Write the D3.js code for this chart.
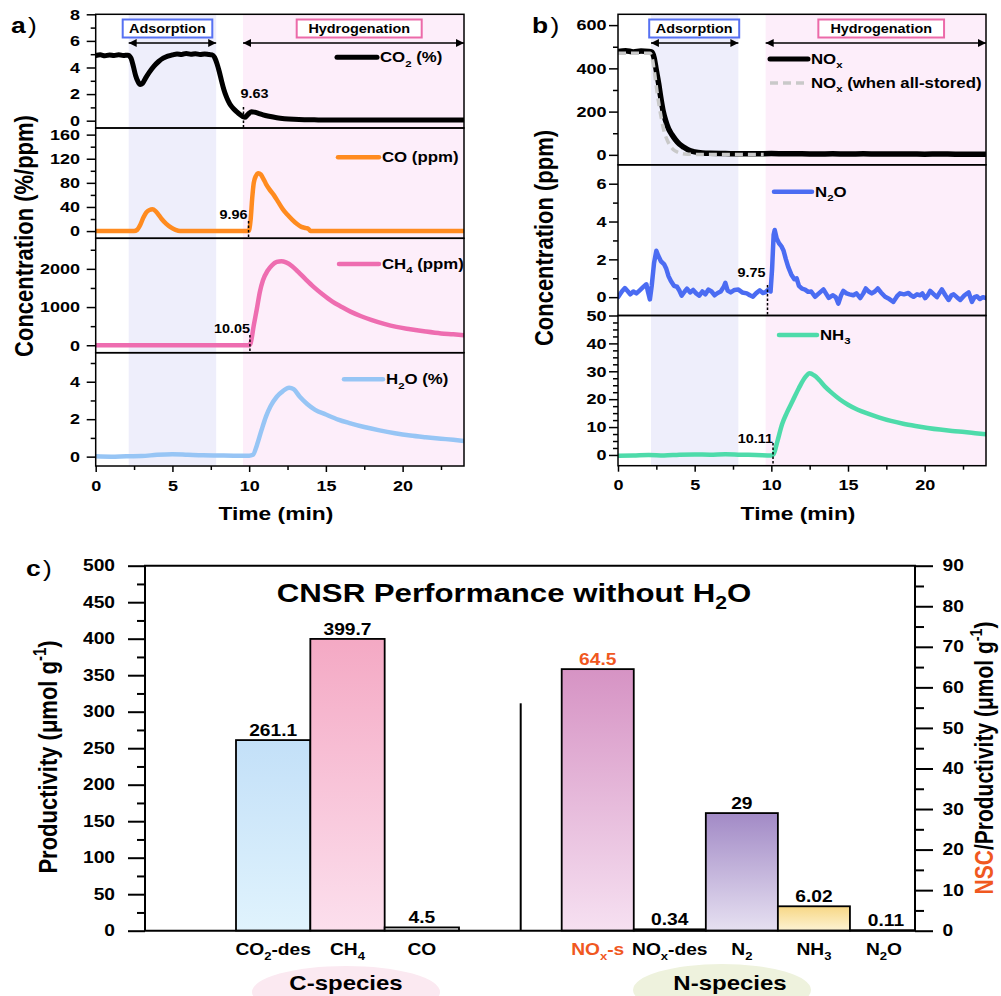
<!DOCTYPE html>
<html>
<head>
<meta charset="utf-8">
<script src="https://cdn.jsdelivr.net/npm/d3@7"></script>
<style>
  html, body { margin: 0; padding: 0; background: #fff; }
  svg { display: block; }
  text { font-family: 'Liberation Sans', Arial, sans-serif; font-weight: bold; }
</style>
</head>
<body>
<svg id="fig" width="1001" height="996"></svg>
<script>
// ---------------- time-resolved outlet concentrations (t in min, value) ----------------
const co2Series = [[0,4.9],[0.3,4.95],[0.6,4.88],[0.9,4.94],[1.2,4.9],[1.5,4.96],[1.8,4.9],[2.1,4.93],[2.3,4.7],[2.45,4.1],[2.6,3.4],[2.75,2.95],[2.9,2.72],[3.05,2.8],[3.25,3.2],[3.5,3.65],[3.8,4.1],[4.1,4.45],[4.4,4.7],[4.7,4.85],[5.0,4.95],[5.3,5.02],[5.6,4.98],[5.9,5.06],[6.2,5.0],[6.5,5.04],[6.8,4.98],[7.1,5.02],[7.4,4.97],[7.6,4.95],[7.75,4.75],[7.9,4.3],[8.05,3.7],[8.2,3.0],[8.35,2.35],[8.5,1.85],[8.65,1.45],[8.8,1.15],[9.0,0.88],[9.2,0.66],[9.4,0.46],[9.6,0.3],[9.72,0.25],[9.85,0.38],[10.0,0.56],[10.15,0.68],[10.35,0.64],[10.6,0.55],[10.9,0.44],[11.3,0.33],[11.8,0.22],[12.3,0.15],[12.9,0.1],[13.6,0.07],[14.5,0.06],[16,0.05],[18,0.05],[20,0.05],[22,0.05],[24,0.05]];
const coSeries = [[0,0],[2.5,0],[2.7,2],[2.9,10],[3.1,22],[3.3,31],[3.5,35],[3.7,36],[3.9,33],[4.1,27],[4.3,20],[4.6,12],[4.9,6],[5.2,2],[5.5,0],[9.9,0],[10.0,1],[10.1,20],[10.2,55],[10.3,80],[10.45,92],[10.6,96],[10.75,94],[10.9,88],[11.1,78],[11.3,70],[11.6,60],[11.9,48],[12.2,36],[12.5,27],[12.8,19],[13.1,12],[13.4,7],[13.7,5],[13.85,4],[14.0,0],[24,0]];
const ch4Series = [[0,0],[10,0],[10.1,60],[10.3,520],[10.5,950],[10.7,1400],[10.9,1700],[11.2,1950],[11.5,2100],[11.8,2180],[12.1,2200],[12.4,2170],[12.8,2070],[13.2,1920],[13.7,1720],[14.2,1530],[14.8,1330],[15.4,1150],[16,1010],[16.6,880],[17.3,760],[18,660],[18.8,560],[19.6,480],[20.5,420],[21.5,360],[22.5,310],[23.3,285],[24,260]];
const h2oSeries = [[0,0.02],[1,0.0],[2,0.02],[3,0.03],[4,0.1],[5,0.13],[6,0.1],[7,0.07],[8,0.06],[9,0.05],[10,0.05],[10.25,0.1],[10.5,0.6],[10.8,1.4],[11.1,2.15],[11.4,2.7],[11.8,3.2],[12.2,3.5],[12.6,3.68],[12.9,3.6],[13.3,3.2],[13.8,2.8],[14.3,2.5],[15,2.25],[15.8,1.98],[16.6,1.78],[17.5,1.58],[18.5,1.4],[19.5,1.25],[20.5,1.13],[21.5,1.04],[22.5,0.96],[23.3,0.9],[24,0.84]];

const noxSeries = [[0,478],[0.5,482],[1,476],[1.5,480],[2,478],[2.2,475],[2.35,450],[2.5,390],[2.65,330],[2.8,260],[2.95,200],[3.1,160],[3.3,120],[3.5,95],[3.75,70],[4,50],[4.3,35],[4.6,22],[5,14],[5.5,9],[6,7],[7,6],[8,5],[9,5],[10,6],[11,5],[12,5],[13,4],[14,5],[15,4],[16,5],[17,4],[18,4],[19,4],[20,3],[21,4],[22,3],[23,3],[24,3]];
const noxStoredSeries = [[0,470],[2.1,470],[2.25,440],[2.4,370],[2.55,290],[2.7,220],[2.85,160],[3.0,110],[3.2,70],[3.4,42],[3.6,25],[3.9,12],[4.2,6],[4.6,3],[5,2],[6,2],[7,2],[8,2],[9,2],[9.5,2]];
const n2oSeries = [[0,0.0],[0.25,0.3],[0.45,0.48],[0.65,0.3],[0.8,0.15],[1.0,0.3],[1.2,0.2],[1.4,0.35],[1.6,0.5],[1.85,0.68],[1.95,0.3],[2.08,-0.12],[2.2,0.6],[2.35,1.8],[2.5,2.45],[2.62,2.2],[2.8,1.9],[3.0,1.75],[3.15,1.5],[3.3,1.1],[3.45,0.85],[3.65,0.6],[3.85,0.55],[4.0,0.35],[4.15,0.08],[4.35,0.3],[4.5,0.45],[4.7,0.25],[4.9,0.38],[5.1,0.2],[5.3,0.08],[5.5,0.3],[5.7,0.15],[5.9,0.4],[6.1,0.3],[6.3,0.1],[6.5,0.22],[6.7,0.3],[6.9,0.55],[7.0,0.76],[7.15,0.35],[7.35,0.25],[7.6,0.38],[7.85,0.4],[8.1,0.25],[8.4,0.2],[8.6,0.1],[8.8,0.03],[9.0,0.2],[9.25,0.36],[9.45,0.22],[9.6,0.25],[9.8,0.4],[9.95,0.3],[10.05,1.5],[10.15,3.3],[10.22,3.55],[10.35,3.1],[10.5,2.85],[10.65,2.7],[10.8,2.45],[10.95,2.0],[11.1,1.6],[11.3,1.2],[11.5,0.95],[11.65,1.0],[11.8,0.6],[12.0,0.45],[12.2,0.4],[12.4,0.28],[12.6,0.3],[12.85,0.02],[13.1,0.2],[13.4,0.41],[13.6,0.15],[13.75,-0.04],[14.0,0.1],[14.2,0.0],[14.37,-0.34],[14.55,0.1],[14.7,0.33],[14.9,0.2],[15.1,0.15],[15.35,0.1],[15.55,0.2],[15.8,-0.05],[16.0,0.2],[16.16,0.46],[16.35,0.3],[16.55,0.2],[16.75,0.3],[16.94,0.46],[17.15,0.25],[17.42,0.02],[17.7,-0.1],[17.96,-0.25],[18.2,0.05],[18.39,0.2],[18.65,0.15],[18.94,0.22],[19.1,0.1],[19.27,0.02],[19.5,0.15],[19.7,0.1],[19.85,0.2],[20.03,-0.05],[20.2,0.1],[20.36,0.33],[20.6,0.15],[20.8,0.0],[20.95,0.2],[21.12,0.41],[21.35,0.1],[21.56,-0.15],[21.75,0.1],[21.89,0.15],[22.1,0.0],[22.32,-0.15],[22.6,0.1],[22.87,0.25],[23.08,-0.25],[23.25,0.0],[23.4,0.05],[23.6,-0.1],[23.8,0.0],[24,-0.05]];
const nh3Series = [[0,-0.3],[1,-0.2],[2,0],[3,-0.2],[4,0.1],[5,0.2],[6,0.1],[7,0.3],[8,0.1],[9,0.0],[10,-0.2],[10.15,0.3],[10.4,5],[10.7,11],[11,15],[11.4,19.5],[11.8,24],[12.2,27.8],[12.5,29.3],[12.8,28.5],[13.1,27],[13.5,24.5],[14,22],[14.5,19.8],[15,18],[15.6,16.3],[16.3,14.8],[17,13.5],[17.8,12.2],[18.6,11.2],[19.4,10.4],[20.2,9.7],[21,9.1],[21.8,8.6],[22.6,8.2],[23.3,7.8],[24,7.4]];

// process phases (min)
const phaseNames = ["Adsorption", "Hydrogenation"];
const phaseStartA = [2.15, 9.6], phaseEndA = [7.85, 24];
const phaseStartB = [2.15, 9.63], phaseEndB = [7.85, 24];

// onset times marked on the curves
const onsetA = [9.63, 9.96, 10.05];
const onsetB = [9.75, 10.11];

// axis ticks
const timeTicks = [0, 5, 10, 15, 20];
const co2Ticks = [0, 2, 4, 6, 8];
const coTicks = [0, 40, 80, 120, 160];
const ch4Ticks = [0, 1000, 2000];
const h2oTicks = [0, 2, 4];
const noxTicks = [0, 200, 400, 600];
const n2oTicks = [0, 2, 4, 6];
const nh3Ticks = [0, 10, 20, 30, 40, 50];
const prodTicks = d3.range(0, 501, 50);
const nscTicks = d3.range(0, 91, 10);

// ---------------- productivity bars ----------------
const cCategories = ["CO_{2}-des", "CH_{4}", "CO"];
const cValues = [261.1, 399.7, 4.5];
const nCategories = ["NO_{x}-s", "NO_{x}-des", "N_{2}", "NH_{3}", "N_{2}O"];
const nValues = [64.5, 0.34, 29, 6.02, 0.11];

// ---------------- drawing ----------------
const SX = 1.2;           // horizontal glyph stretch used throughout the figure
const intFmt = d3.format('d');
const svg = d3.select('#fig');
const defs = svg.append('defs');

function rich(t, str, fs) {
  const re = /([_^])\{([^}]*)\}/g;
  let last = 0, m;
  const parts = [];
  while ((m = re.exec(str))) {
    if (m.index > last) parts.push({ s: str.slice(last, m.index), k: 'n' });
    parts.push({ s: m[2], k: m[1] === '_' ? 'sub' : 'sup' });
    last = re.lastIndex;
  }
  if (last < str.length) parts.push({ s: str.slice(last), k: 'n' });
  let shift = 0;
  parts.forEach(p => {
    const ts = t.append('tspan').text(p.s);
    const target = p.k === 'sub' ? fs * 0.3 : (p.k === 'sup' ? -fs * 0.42 : 0);
    if (target - shift !== 0) ts.attr('dy', target - shift);
    shift = target;
    if (p.k !== 'n') ts.attr('font-size', fs * 0.68);
  });
}

function label(g, x, y, str, o = {}) {
  const fs = o.size || 14;
  const tr = o.rotate
    ? `translate(${x},${y}) rotate(${o.rotate}) scale(1,${SX})`
    : `translate(${x},${y}) scale(${SX},1)`;
  const t = g.append('text')
    .attr('transform', tr)
    .attr('font-size', fs)
    .attr('text-anchor', o.anchor || 'start')
    .attr('fill', o.color || '#000')
    .attr('font-weight', o.weight || 'bold');
  rich(t, str, fs);
  return t;
}

function styleAxis(sel, fs) {
  sel.select('.domain').remove();
  sel.selectAll('.tick line').attr('stroke', '#000').attr('stroke-width', 1.5);
  sel.selectAll('.tick text')
    .attr('font-size', fs).attr('font-weight', 'bold').attr('fill', '#000')
    .attr('font-family', "'Liberation Sans', Arial, sans-serif")
    .attr('transform', `scale(${SX},1)`);
}

defs.append('marker')
  .attr('id', 'arrowHead').attr('viewBox', '0 0 10 10')
  .attr('refX', 10).attr('refY', 5)
  .attr('markerWidth', 9).attr('markerHeight', 8)
  .attr('markerUnits', 'userSpaceOnUse')
  .attr('orient', 'auto-start-reverse')
  .append('path').attr('d', 'M0,0 L10,5 L0,10 Z').attr('fill', '#000');

let clipId = 0;

function timePanel(cfg) {
  const g = svg.append('g');
  const x = cfg.x;
  const top = cfg.rows[0].y0, bottom = cfg.rows[cfg.rows.length - 1].y1;
  const [x0, x1] = x.range();

  // phase shading
  const bandColors = ['#eeeefb', '#fdeefa'];
  cfg.phaseStart.forEach((s, i) => {
    g.append('rect')
      .attr('x', x(s)).attr('y', top)
      .attr('width', x(cfg.phaseEnd[i]) - x(s)).attr('height', bottom - top)
      .attr('fill', bandColors[i]);
  });

  const line = d3.line().x(d => x(d[0]));

  cfg.rows.forEach(row => {
    const y = d3.scaleLinear().domain(row.domain).range([row.y1, row.y0]);
    const id = 'clip' + (clipId++);
    defs.append('clipPath').attr('id', id).append('rect')
      .attr('x', x0).attr('y', row.y0).attr('width', x1 - x0).attr('height', row.y1 - row.y0);
    const lg = g.append('g').attr('clip-path', `url(#${id})`);
    row.series.forEach(s => {
      lg.append('path')
        .datum(s.data)
        .attr('d', line.y(d => y(d[1])).curve(s.curve || d3.curveMonotoneX))
        .attr('fill', 'none')
        .attr('stroke', s.color)
        .attr('stroke-width', s.width)
        .attr('stroke-dasharray', s.dash || null)
        .attr('stroke-linejoin', 'round')
        .attr('stroke-linecap', s.dash ? 'butt' : 'round');
    });

    // legend entries
    row.legend.forEach(l => {
      g.append('line')
        .attr('x1', l.x1).attr('x2', l.x2).attr('y1', l.y).attr('y2', l.y)
        .attr('stroke', l.color).attr('stroke-width', l.width)
        .attr('stroke-dasharray', l.dash || null)
        .attr('stroke-linecap', l.dash ? 'butt' : 'round');
      label(g, l.x2 + 3, l.y + 5, l.text, { size: 14 });
    });

    // onset markers
    (row.onset || []).forEach(o => {
      g.append('line')
        .attr('x1', x(o.t)).attr('x2', x(o.t))
        .attr('y1', o.ya).attr('y2', row.y1)
        .attr('stroke', '#000').attr('stroke-width', 1.5)
        .attr('stroke-dasharray', '2.5,2');
      label(g, x(o.t) + o.dx, o.ty, String(o.t), { size: 12, anchor: o.anchor });
    });

    // left axis (minor then major)
    const ax1 = g.append('g').attr('transform', `translate(${x0},0)`)
      .call(d3.axisLeft(y).tickValues(row.minor).tickSize(5).tickFormat(''));
    styleAxis(ax1, 15);
    const ax2 = g.append('g').attr('transform', `translate(${x0},0)`)
      .call(d3.axisLeft(y).tickValues(row.major).tickSize(9).tickPadding(cfg.tickPad).tickFormat(intFmt));
    styleAxis(ax2, 15);

    g.append('rect')
      .attr('x', x0).attr('y', row.y0).attr('width', x1 - x0).attr('height', row.y1 - row.y0)
      .attr('fill', 'none').attr('stroke', '#000').attr('stroke-width', 1.5);
  });

  // bottom time axis
  const bx1 = g.append('g').attr('transform', `translate(0,${bottom})`)
    .call(d3.axisBottom(x).tickValues([2.5, 7.5, 12.5, 17.5, 22.5]).tickSize(4).tickFormat(''));
  styleAxis(bx1, 15);
  const bx2 = g.append('g').attr('transform', `translate(0,${bottom})`)
    .call(d3.axisBottom(x).tickValues(timeTicks).tickSize(6).tickPadding(8).tickFormat(intFmt));
  styleAxis(bx2, 15);

  label(g, (x0 + x1) / 2 - 4, 520, 'Time (min)', { size: 19, anchor: 'middle' });
  label(g, cfg.yTitleX, cfg.yTitleY, cfg.yTitle, { size: 22, anchor: 'middle', rotate: -90 });

  // phase boxes and arrows
  const boxColors = ['#5671f2', '#ec6aa9'];
  cfg.phaseStart.forEach((s, i) => {
    const bw = cfg.boxW[i], cx = cfg.boxCx[i];
    g.append('rect')
      .attr('x', cx - bw / 2).attr('y', 19.5).attr('width', bw).attr('height', 18)
      .attr('fill', '#fff').attr('stroke', boxColors[i]).attr('stroke-width', 2);
    label(g, cx, 33, phaseNames[i], { size: 12, anchor: 'middle' });
    g.append('line')
      .attr('x1', x(s)).attr('x2', x(cfg.phaseEnd[i]))
      .attr('y1', 43).attr('y2', 43)
      .attr('stroke', '#000').attr('stroke-width', 1.5)
      .attr('marker-start', 'url(#arrowHead)').attr('marker-end', 'url(#arrowHead)');
  });

  const pl = g.append('text').attr('transform', `translate(${cfg.tagX},33) scale(${SX},1)`).attr('font-size', 22);
  pl.append('tspan').text(cfg.tag);
  pl.append('tspan').attr('font-weight', 'normal').attr('dx', 2).text(')');
}

// panel a
const xA = d3.scaleLinear().domain([0, 24]).range([95.7, 464]);
timePanel({
  x: xA, tag: 'a', tagX: 11, tickPad: 4,
  phaseStart: phaseStartA, phaseEnd: phaseEndA,
  boxCx: [167.5, 359.2], boxW: [89.6, 125],
  yTitle: 'Concentration (%/ppm)', yTitleX: 33, yTitleY: 236,
  rows: [
    { y0: 14.3, y1: 128, domain: [-0.55, 8], major: co2Ticks, minor: [1, 3, 5, 7],
      series: [{ data: co2Series, color: '#000', width: 5 }],
      legend: [{ x1: 337, x2: 377, y: 57.3, color: '#000', width: 5, text: 'CO_{2} (%)' }],
      onset: [{ t: onsetA[0], ya: 107, ty: 98, dx: -3, anchor: 'start' }] },
    { y0: 128, y1: 238.3, domain: [-12, 171], major: coTicks, minor: [20, 60, 100, 140],
      series: [{ data: coSeries, color: '#ff8b1f', width: 4.5 }],
      legend: [{ x1: 338, x2: 379, y: 157.3, color: '#ff8b1f', width: 4.5, text: 'CO (ppm)' }],
      onset: [{ t: onsetA[1], ya: 221, ty: 219, dx: -1, anchor: 'end' }] },
    { y0: 238.3, y1: 352.7, domain: [-195, 2800], major: ch4Ticks, minor: [500, 1500, 2500],
      series: [{ data: ch4Series, color: '#ee6db0', width: 4.5 }],
      legend: [{ x1: 339, x2: 379, y: 264, color: '#ee6db0', width: 4.5, text: 'CH_{4} (ppm)' }],
      onset: [{ t: onsetA[2], ya: 335, ty: 333, dx: 0, anchor: 'end' }] },
    { y0: 352.7, y1: 466, domain: [-0.5, 5.55], major: h2oTicks, minor: [1, 3, 5],
      series: [{ data: h2oSeries, color: '#97c5f5', width: 4.5 }],
      legend: [{ x1: 344, x2: 383, y: 379.3, color: '#97c5f5', width: 4.5, text: 'H_{2}O (%)' }] }
  ]
});

// panel b
const xB = d3.scaleLinear().domain([0, 24]).range([618, 986]);
timePanel({
  x: xB, tag: 'b', tagX: 532, tickPad: 0.5,
  phaseStart: phaseStartB, phaseEnd: phaseEndB,
  boxCx: [694.2, 881.2], boxW: [90, 125.7],
  yTitle: 'Concentration (ppm)', yTitleX: 553, yTitleY: 238,
  rows: [
    { y0: 14.3, y1: 164.8, domain: [-46, 650], major: noxTicks, minor: [100, 300, 500],
      series: [{ data: noxSeries, color: '#000', width: 5.5 },
               { data: noxStoredSeries, color: '#c9c9c9', width: 3.5, dash: '8,5' }],
      legend: [{ x1: 770, x2: 808, y: 59, color: '#000', width: 5, text: 'NO_{x}' },
               { x1: 770, x2: 808, y: 83, color: '#c9c9c9', width: 3.5, dash: '8,5', text: 'NO_{x} (when all-stored)' }] },
    { y0: 164.8, y1: 315.5, domain: [-0.97, 7.0], major: n2oTicks, minor: [1, 3, 5],
      series: [{ data: n2oSeries, color: '#4b6cf2', width: 4.5, curve: d3.curveLinear }],
      legend: [{ x1: 774, x2: 812, y: 191.7, color: '#4b6cf2', width: 4.5, text: 'N_{2}O' }],
      onset: [{ t: onsetB[0], ya: 285, ty: 277, dx: -2, anchor: 'end' }] },
    { y0: 315.5, y1: 465.7, domain: [-3.85, 50], major: nh3Ticks,
      minor: [2.5, 5, 7.5, 12.5, 15, 17.5, 22.5, 25, 27.5, 32.5, 35, 37.5, 42.5, 45, 47.5],
      series: [{ data: nh3Series, color: '#4edbaa', width: 4.5 }],
      legend: [{ x1: 779, x2: 817, y: 335, color: '#4edbaa', width: 4.5, text: 'NH_{3}' }],
      onset: [{ t: onsetB[1], ya: 443, ty: 443, dx: 0, anchor: 'end' }] }
  ]
});

// ---------------- panel c ----------------
(function () {
  const g = svg.append('g');
  const X0 = 145, X1 = 915, Y0 = 565.7, Y1 = 930.7;
  const yL = d3.scaleLinear().domain([0, 500]).range([Y1, Y0]);
  const yR = d3.scaleLinear().domain([0, 90]).range([Y1, Y0]);
  const xC = d3.scaleBand().domain(cCategories).range([236, 459]);
  const xN = d3.scaleBand().domain(nCategories).range([561.7, 922]);

  const grad = (id, top, bottom) => {
    const lg = defs.append('linearGradient').attr('id', id)
      .attr('x1', 0).attr('x2', 0).attr('y1', 0).attr('y2', 1);
    lg.append('stop').attr('offset', '0%').attr('stop-color', top);
    lg.append('stop').attr('offset', '100%').attr('stop-color', bottom);
    return `url(#${id})`;
  };
  const cFills = [grad('gCO2', '#c3e0f8', '#e0f3fd'), grad('gCH4', '#f4a9c4', '#fcdfed'), '#f4f4f4'];
  const nFills = [grad('gNOxs', '#d693c4', '#f6e0f1'), '#f2f2f2', grad('gN2', '#a28ac6', '#e6e0f1'),
                  grad('gNH3', '#f7d785', '#fdf3d3'), '#f2f2f2'];

  defs.append('clipPath').attr('id', 'clipC').append('rect')
    .attr('x', X0).attr('y', Y0 - 40).attr('width', X1 - X0).attr('height', Y1 - Y0 + 41);
  const bars = g.append('g').attr('clip-path', 'url(#clipC)');

  bars.selectAll('rect.c').data(cCategories).join('rect')
    .attr('x', d => xC(d)).attr('width', xC.bandwidth())
    .attr('y', (d, i) => yL(cValues[i])).attr('height', (d, i) => Y1 - yL(cValues[i]))
    .attr('fill', (d, i) => cFills[i]).attr('stroke', '#000').attr('stroke-width', 1.8);
  bars.selectAll('rect.n').data(nCategories).join('rect')
    .attr('x', d => xN(d)).attr('width', xN.bandwidth())
    .attr('y', (d, i) => yR(nValues[i])).attr('height', (d, i) => Y1 - yR(nValues[i]))
    .attr('fill', (d, i) => nFills[i]).attr('stroke', '#000').attr('stroke-width', 1.8);

  const orange = '#f0581f';
  cCategories.forEach((c, i) => {
    const cx = xC(c) + xC.bandwidth() / 2;
    label(g, cx, yL(cValues[i]) - 4, String(cValues[i]), { size: 16, anchor: 'middle' });
    label(g, cx, 955, c, { size: 16, anchor: 'middle' });
  });
  nCategories.forEach((c, i) => {
    const cx = xN(c) + xN.bandwidth() / 2;
    const col = i === 0 ? orange : '#000';
    label(g, Math.min(cx, 886), yR(nValues[i]) - 4, String(nValues[i]), { size: 16, anchor: 'middle', color: col });
    label(g, Math.min(cx, 884), 955, c, { size: 16, anchor: 'middle', color: col });
  });

  // separator between the carbon and nitrogen groups
  g.append('line').attr('x1', 520.7).attr('x2', 520.7).attr('y1', 703.3).attr('y2', Y1)
    .attr('stroke', '#000').attr('stroke-width', 2);

  // frame
  g.append('path').attr('d', `M${X0},${Y0} H${X1} V${Y1} H${X0} Z`)
    .attr('fill', 'none').attr('stroke', '#000').attr('stroke-width', 2);

  const lMinor = d3.range(25, 500, 50);
  const a1 = g.append('g').attr('transform', `translate(${X0},0)`)
    .call(d3.axisLeft(yL).tickValues(lMinor).tickSize(8).tickFormat(''));
  styleAxis(a1, 16);
  const a2 = g.append('g').attr('transform', `translate(${X0},0)`)
    .call(d3.axisLeft(yL).tickValues(prodTicks).tickSize(17).tickPadding(8).tickFormat(intFmt));
  styleAxis(a2, 16);
  const rMinor = d3.range(5, 90, 10);
  const a3 = g.append('g').attr('transform', `translate(${X1},0)`)
    .call(d3.axisRight(yR).tickValues(rMinor).tickSize(9).tickFormat(''));
  styleAxis(a3, 16);
  const a4 = g.append('g').attr('transform', `translate(${X1},0)`)
    .call(d3.axisRight(yR).tickValues(nscTicks).tickSize(18).tickPadding(5).tickFormat(intFmt));
  styleAxis(a4, 16);
  g.selectAll('.tick line').attr('stroke-width', 2);

  label(g, 514, 601.5, 'CNSR Performance without H_{2}O', { size: 26, anchor: 'middle' });

  label(g, 57, 757, 'Productivity (μmol g^{-1})', { size: 22, anchor: 'middle', rotate: -90 });
  const rt = label(g, 993, 758, '', { size: 21, anchor: 'middle', rotate: -90 });
  rt.append('tspan').attr('fill', orange).text('NSC');
  rich(rt, '/Productivity (μmol g^{-1})', 21);

  // group tags
  g.append('ellipse').attr('cx', 346).attr('cy', 992).attr('rx', 94).attr('ry', 26).attr('fill', '#fbe9f1');
  g.append('ellipse').attr('cx', 722).attr('cy', 990).attr('rx', 89).attr('ry', 26).attr('fill', '#eef2dd');
  label(g, 346, 990, 'C-species', { size: 20, anchor: 'middle' });
  label(g, 730, 990, 'N-species', { size: 20, anchor: 'middle' });

  const pl = g.append('text').attr('transform', `translate(26,576) scale(${SX},1)`).attr('font-size', 22);
  pl.append('tspan').text('c');
  pl.append('tspan').attr('font-weight', 'normal').attr('dx', 2).text(')');
})();
</script>
</body>
</html>
